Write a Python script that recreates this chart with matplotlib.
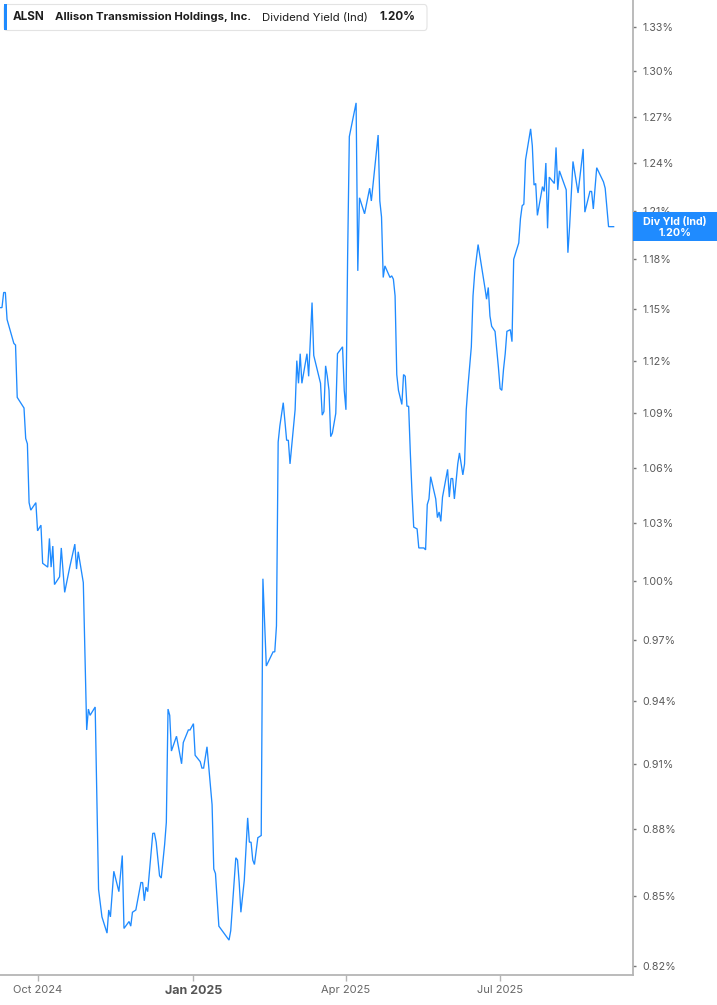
import matplotlib
matplotlib.use("Agg")
import matplotlib.pyplot as plt
from matplotlib.patches import FancyBboxPatch, Rectangle
from matplotlib.ticker import FixedLocator, FuncFormatter, NullLocator
import pandas as pd

plt.rcParams['font.family'] = ['Inter', 'DejaVu Sans']

# ---------------- data ----------------
dates = [
    "2024-09-09", "2024-09-10", "2024-09-11", "2024-09-12", "2024-09-13", "2024-09-15", "2024-09-17", "2024-09-18",
    "2024-09-19", "2024-09-21", "2024-09-23", "2024-09-24", "2024-09-25", "2024-09-26", "2024-09-27", "2024-09-30",
    "2024-10-01", "2024-10-03", "2024-10-04", "2024-10-07", "2024-10-08", "2024-10-09", "2024-10-10", "2024-10-11",
    "2024-10-14", "2024-10-15", "2024-10-17", "2024-10-20", "2024-10-23", "2024-10-24", "2024-10-25", "2024-10-28",
    "2024-10-30", "2024-10-31", "2024-11-01", "2024-11-04", "2024-11-06", "2024-11-08", "2024-11-11", "2024-11-12",
    "2024-11-13", "2024-11-15", "2024-11-18", "2024-11-20", "2024-11-21", "2024-11-24", "2024-11-25", "2024-11-26",
    "2024-11-28", "2024-12-01", "2024-12-02", "2024-12-03", "2024-12-04", "2024-12-05", "2024-12-08", "2024-12-09",
    "2024-12-10", "2024-12-12", "2024-12-13", "2024-12-15", "2024-12-16", "2024-12-17", "2024-12-18", "2024-12-19",
    "2024-12-22", "2024-12-25", "2024-12-26", "2024-12-29", "2024-12-30", "2025-01-01", "2025-01-02", "2025-01-04",
    "2025-01-05", "2025-01-06", "2025-01-07", "2025-01-09", "2025-01-10", "2025-01-12", "2025-01-13", "2025-01-14",
    "2025-01-16", "2025-01-22", "2025-01-23", "2025-01-26", "2025-01-27", "2025-01-28", "2025-01-29", "2025-01-31",
    "2025-02-02", "2025-02-03", "2025-02-04", "2025-02-05", "2025-02-06", "2025-02-08", "2025-02-10", "2025-02-11",
    "2025-02-13", "2025-02-17", "2025-02-18", "2025-02-19", "2025-02-20", "2025-02-21", "2025-02-23", "2025-02-25",
    "2025-02-26", "2025-02-27", "2025-03-02", "2025-03-03", "2025-03-04", "2025-03-05", "2025-03-06", "2025-03-09",
    "2025-03-10", "2025-03-12", "2025-03-13", "2025-03-17", "2025-03-18", "2025-03-19", "2025-03-20", "2025-03-21",
    "2025-03-22", "2025-03-23", "2025-03-24", "2025-03-26", "2025-03-27", "2025-03-30", "2025-03-31", "2025-04-01",
    "2025-04-02", "2025-04-03", "2025-04-05", "2025-04-07", "2025-04-08", "2025-04-09", "2025-04-12", "2025-04-15",
    "2025-04-16", "2025-04-20", "2025-04-21", "2025-04-22", "2025-04-23", "2025-04-24", "2025-04-27", "2025-04-28",
    "2025-04-29", "2025-04-30", "2025-05-01", "2025-05-02", "2025-05-04", "2025-05-05", "2025-05-06", "2025-05-07",
    "2025-05-08", "2025-05-09", "2025-05-10", "2025-05-11", "2025-05-13", "2025-05-14", "2025-05-17", "2025-05-18",
    "2025-05-19", "2025-05-20", "2025-05-21", "2025-05-24", "2025-05-25", "2025-05-26", "2025-05-27", "2025-05-28",
    "2025-05-31", "2025-06-01", "2025-06-02", "2025-06-03", "2025-06-04", "2025-06-06", "2025-06-07", "2025-06-09",
    "2025-06-10", "2025-06-11", "2025-06-12", "2025-06-14", "2025-06-15", "2025-06-16", "2025-06-18", "2025-06-22",
    "2025-06-23", "2025-06-24", "2025-06-25", "2025-06-26", "2025-06-28", "2025-06-30", "2025-07-01", "2025-07-02",
    "2025-07-03", "2025-07-04", "2025-07-05", "2025-07-07", "2025-07-08", "2025-07-09", "2025-07-12", "2025-07-13",
    "2025-07-14", "2025-07-15", "2025-07-16", "2025-07-19", "2025-07-20", "2025-07-21", "2025-07-22", "2025-07-23",
    "2025-07-26", "2025-07-27", "2025-07-28", "2025-07-29", "2025-07-30", "2025-08-02", "2025-08-03", "2025-08-04",
    "2025-08-05", "2025-08-09", "2025-08-10", "2025-08-11", "2025-08-13", "2025-08-16", "2025-08-19", "2025-08-20",
    "2025-08-23", "2025-08-24", "2025-08-25", "2025-08-27", "2025-08-31", "2025-09-01", "2025-09-03", "2025-09-06",
]

div_yield = [
    1.151, 1.151, 1.160, 1.160, 1.144, 1.137, 1.130, 1.129,
    1.099, 1.096, 1.093, 1.076, 1.073, 1.041, 1.037, 1.041,
    1.026, 1.029, 1.009, 1.007, 1.022, 1.007, 1.018, 0.998,
    1.002, 1.017, 0.994, 1.007, 1.019, 1.006, 1.015, 0.999,
    0.926, 0.936, 0.933, 0.937, 0.853, 0.841, 0.834, 0.844,
    0.841, 0.861, 0.852, 0.868, 0.836, 0.839, 0.837, 0.843,
    0.844, 0.856, 0.856, 0.848, 0.854, 0.852, 0.878, 0.878,
    0.874, 0.859, 0.858, 0.873, 0.883, 0.936, 0.933, 0.916,
    0.923, 0.910, 0.920, 0.926, 0.926, 0.929, 0.914, 0.912,
    0.911, 0.908, 0.908, 0.918, 0.909, 0.891, 0.862, 0.860,
    0.837, 0.831, 0.835, 0.867, 0.866, 0.856, 0.843, 0.857,
    0.885, 0.874, 0.874, 0.866, 0.864, 0.876, 0.877, 1.001,
    0.957, 0.964, 0.964, 0.977, 1.074, 1.083, 1.096, 1.075,
    1.075, 1.062, 1.092, 1.120, 1.107, 1.124, 1.107, 1.124,
    1.111, 1.154, 1.123, 1.107, 1.089, 1.091, 1.117, 1.111,
    1.103, 1.077, 1.079, 1.090, 1.124, 1.128, 1.103, 1.092,
    1.182, 1.257, 1.268, 1.279, 1.173, 1.218, 1.208, 1.224,
    1.216, 1.258, 1.216, 1.206, 1.169, 1.176, 1.169, 1.170,
    1.168, 1.158, 1.112, 1.103, 1.095, 1.112, 1.111, 1.094,
    1.094, 1.068, 1.046, 1.028, 1.027, 1.017, 1.017, 1.016,
    1.040, 1.043, 1.055, 1.043, 1.033, 1.036, 1.031, 1.044,
    1.059, 1.044, 1.054, 1.054, 1.043, 1.062, 1.068, 1.056,
    1.062, 1.092, 1.105, 1.128, 1.158, 1.172, 1.189, 1.163,
    1.156, 1.163, 1.146, 1.140, 1.137, 1.116, 1.104, 1.103,
    1.115, 1.124, 1.137, 1.138, 1.131, 1.180, 1.190, 1.205,
    1.213, 1.214, 1.242, 1.262, 1.251, 1.226, 1.227, 1.207,
    1.225, 1.222, 1.240, 1.199, 1.231, 1.227, 1.250, 1.223,
    1.235, 1.223, 1.184, 1.200, 1.241, 1.221, 1.249, 1.209,
    1.222, 1.222, 1.211, 1.237, 1.228, 1.224, 1.200, 1.200,
]

y_ticks = [0.82, 0.85, 0.88, 0.91, 0.94, 0.97, 1.00, 1.03, 1.06, 1.09,
           1.12, 1.15, 1.18, 1.21, 1.24, 1.27, 1.30, 1.33]
x_tick_dates = ["2024-10-01", "2025-01-01", "2025-04-01", "2025-07-01"]
x_tick_labels = ["Oct 2024", "Jan 2025", "Apr 2025", "Jul 2025"]

ticker = "ALSN"
company = "Allison Transmission Holdings, Inc."
metric = "Dividend Yield (Ind)"
last_value_label = "1.20%"
badge_label = "Div Yld (Ind)"

# ---------------- figure ----------------
W, H = 717, 1005
fig = plt.figure(figsize=(W / 100, H / 100), dpi=100)
fig.patch.set_facecolor("white")


def fx(px):
    return px / W


def fy(py):
    return 1 - py / H


ax = fig.add_axes([0, fy(975), fx(632.5), 975 / H])
ax.set_facecolor("white")

x = pd.to_datetime(dates)
line_color = "#1f8bff"
ax.plot(x, div_yield, color=line_color, lw=0.95, solid_joinstyle="miter")

ax.set_yscale("log")
ax.set_ylim(0.8162, 1.3486)
ax.set_xlim(pd.Timestamp("2024-09-08 20:00"), pd.Timestamp("2025-09-17 03:00"))

ax.yaxis.tick_right()
ax.yaxis.set_major_locator(FixedLocator(y_ticks))
ax.yaxis.set_minor_locator(NullLocator())
ax.yaxis.set_major_formatter(FuncFormatter(lambda v, p: f"{v:.2f}%"))

ax.set_xticks(pd.to_datetime(x_tick_dates))
ax.set_xticklabels(x_tick_labels)
ax.xaxis.set_minor_locator(NullLocator())

for s in ["left", "top"]:
    ax.spines[s].set_visible(False)
for s in ["right", "bottom"]:
    ax.spines[s].set_color("#b5b5b5")
    ax.spines[s].set_linewidth(1.3)

ax.tick_params(axis="y", which="major", right=True, left=False, length=2, width=1,
               color="#777777", pad=5, labelsize=7.7, labelcolor="#5a5a5a")
ax.tick_params(axis="x", which="major", length=4, width=1, color="#b5b5b5",
               pad=3, labelsize=8, labelcolor="#666666")

for lbl in ax.get_xticklabels():
    if lbl.get_text().startswith("Jan"):
        lbl.set_fontweight("bold")
        lbl.set_fontsize(9)
        lbl.set_color("#555555")

# ---------------- header box ----------------
hdr = FancyBboxPatch((fx(4), fy(30.5)), fx(427) - fx(4), fy(4.5) - fy(30.5),
                     boxstyle="round,pad=0,rounding_size=0.004",
                     transform=fig.transFigure, facecolor="white",
                     edgecolor="#e3e3e3", linewidth=0.8, zorder=5)
fig.patches.append(hdr)
bar = Rectangle((fx(4), fy(30.5)), fx(7) - fx(4), fy(4.5) - fy(30.5),
                transform=fig.transFigure, facecolor=line_color,
                edgecolor="none", zorder=6)
fig.patches.append(bar)

hy = fy(17.5)
fig.text(fx(13), hy, ticker, ha="left", va="center", fontsize=8.4,
         fontweight="bold", color="#1d1d1d", zorder=7)
fig.text(fx(55), hy, company, ha="left", va="center", fontsize=8.15,
         fontweight="bold", color="#1d1d1d", zorder=7)
fig.text(fx(262), hy, metric, ha="left", va="center", fontsize=8.2,
         color="#1d1d1d", zorder=7)
fig.text(fx(379), hy, last_value_label, ha="left", va="center", fontsize=8.4,
         fontweight="bold", color="#1d1d1d", zorder=7)

# ---------------- right badge ----------------
badge = Rectangle((fx(633), fy(241.5)), fx(717) - fx(633), fy(212.5) - fy(241.5),
                  transform=fig.transFigure, facecolor=line_color,
                  edgecolor="none", zorder=8)
fig.patches.append(badge)
fig.text(fx(675), fy(221.5), badge_label, ha="center", va="center",
         fontsize=7.7, fontweight="bold", color="white", zorder=9)
fig.text(fx(675), fy(232.5), last_value_label, ha="center", va="center",
         fontsize=7.7, fontweight="bold", color="white", zorder=9)

fig.savefig("out.png", dpi=100, facecolor="white")
